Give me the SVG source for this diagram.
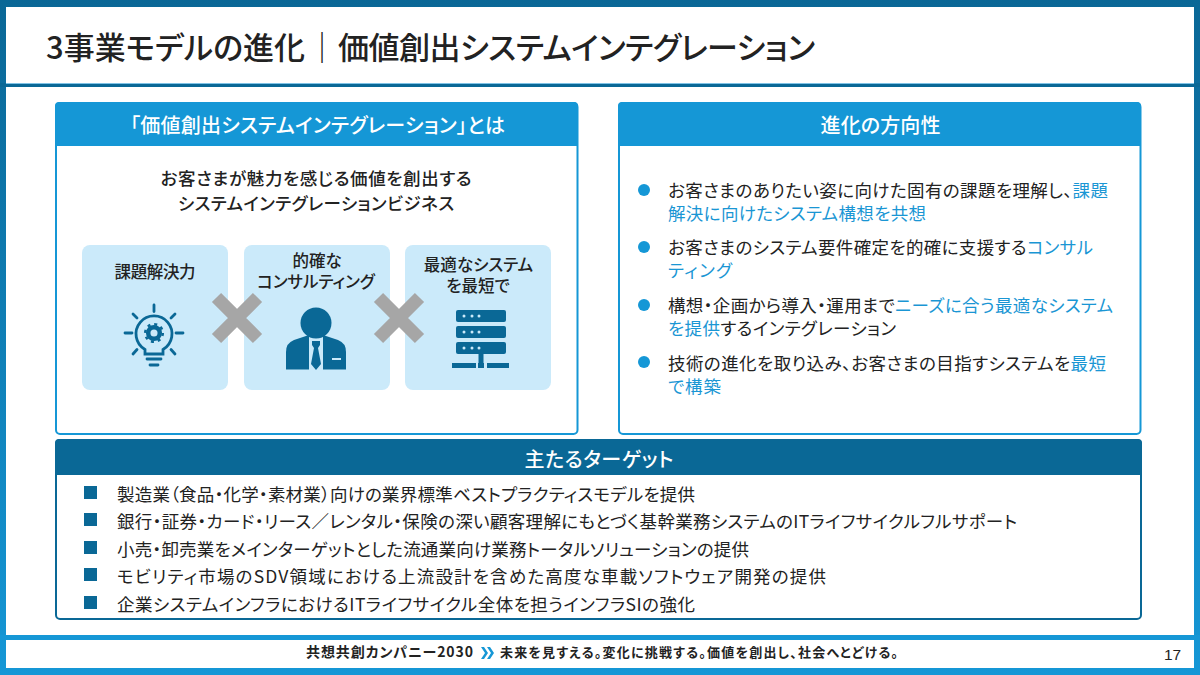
<svg xmlns="http://www.w3.org/2000/svg" width="1200" height="675" viewBox="0 0 1200 675">
<style>
text{font-family:"Noto Sans CJK JP","Noto Sans",sans-serif;fill:#222;font-feature-settings:"palt";}
.head{fill:#fff;font-size:20px;font-weight:500;text-anchor:middle;}
.mid{font-size:16.500px;text-anchor:middle;fill:#222;font-weight:500;}
.lead{font-size:17.500px;text-anchor:middle;font-weight:500;}
.b{font-size:17.500px;}
.t{font-size:17.500px;}
.hl{fill:#1a96d4;}
.blue{fill:#1597d6;}
.navy{fill:#0a6896;}
.tile{fill:#cbeafa;}
.x{stroke:#a6a6a6;stroke-width:13;fill:none;}
.ic{stroke:#0a6896;fill:none;stroke-width:2.800;stroke-linecap:round;}
</style>
<defs>
<linearGradient id="frame" x1="0" y1="0" x2="0" y2="1"><stop offset="0" stop-color="#0a6796"/><stop offset="1" stop-color="#1597d6"/></linearGradient>
<rect id="sq" width="13" height="13" fill="#0a6896"/>
</defs>
<rect width="1200" height="675" fill="url(#frame)"/>
<rect x="6" y="7" width="1188" height="661" fill="#fff"/>
<g id="title">
<rect x="0" y="83" width="1200" height="4" fill="#0a6896"/>
<rect x="6" y="83" width="1188" height="1" fill="#7fc3e6"/>
<text y="59" font-size="31" font-weight="500"><tspan x="46" textLength="259" lengthAdjust="spacing">3事業モデルの進化</tspan><tspan x="306.500" font-weight="400">｜</tspan><tspan x="338" textLength="477" lengthAdjust="spacing">価値創出システムインテグレーション</tspan></text>
</g>
<g id="left-panel">
<rect x="56" y="103" width="521.500" height="331" rx="4" fill="#fff" stroke="#1597d6" stroke-width="2"/>
<path class="blue" d="M55 106a4 4 0 0 1 4-4H574a4 4 0 0 1 4 4V146H55Z"/>
<text class="head" x="317.500" y="133" textLength="375" lengthAdjust="spacing">「価値創出システムインテグレーション」とは</text>
<text class="lead" x="316" y="185" textLength="311" lengthAdjust="spacing">お客さまが魅力を感じる価値を創出する</text>
<text class="lead" x="316" y="210" textLength="276" lengthAdjust="spacing">システムインテグレーションビジネス</text>
</g>
<g id="tile-solve">
<rect class="tile" x="82" y="245" width="146" height="145" rx="8"/>
<text class="mid" x="155" y="278" textLength="81" lengthAdjust="spacing">課題解決力</text>
<g class="ic">
<path d="M145 349.500A18 18 0 1 1 163 349.500V354H145Z"/>
<path d="M147 359h14M150 365h8"/>
<path d="M154 305v6.500M125 333h7M176 333h7M133 314l4 4M175 314l-4 4M133 354l4-4.500M175 354l-4-4.500"/>
</g>
<circle cx="154" cy="333" r="5.800" fill="none" stroke="#0a6896" stroke-width="4.500"/>
<circle cx="154" cy="333" r="8.800" fill="none" stroke="#0a6896" stroke-width="2.500" stroke-dasharray="3 3.900"/>
</g>
<g id="tile-consulting">
<rect class="tile" x="244" y="245" width="146" height="145" rx="8"/>
<text class="mid"><tspan x="317" y="267">的確な</tspan><tspan x="316" y="288">コンサルティング</tspan></text>
<circle cx="316" cy="323" r="15.500" fill="#0a6896"/>
<path class="navy" d="M286 369.500V352q0-9 8-12l15-5v34.500Z"/>
<path class="navy" d="M346 369.500V352q0-9-8-12l-15-5v34.500Z"/>
<path class="navy" d="M312 341h8v4l-2 3 3 16-5 6-5-6 3-16-2-3Z"/>
<rect x="332" y="358" width="9" height="2" fill="#cbeafa"/>
</g>
<g id="tile-system">
<rect class="tile" x="405" y="245" width="146" height="145" rx="8"/>
<text class="mid"><tspan x="478.500" y="271">最適なシステム</tspan><tspan x="478" y="292">を最短で</tspan></text>
<g fill="#0a6896">
<rect x="456" y="310" width="50" height="12" rx="2"/>
<rect x="456" y="326" width="50" height="12" rx="2"/>
<rect x="456" y="342" width="50" height="12" rx="2"/>
<rect x="478.500" y="354" width="5" height="9"/>
<rect x="452" y="363" width="24" height="5"/>
<rect x="478" y="363" width="6" height="5"/>
<rect x="487" y="363" width="22" height="5"/>
</g>
<g fill="#cbeafa">
<circle cx="464" cy="316" r="1.500"/><circle cx="472" cy="316" r="1.500"/><circle cx="479" cy="316" r="1.500"/>
<circle cx="464" cy="332" r="1.500"/><circle cx="472" cy="332" r="1.500"/><circle cx="479" cy="332" r="1.500"/>
<circle cx="464" cy="348" r="1.500"/><circle cx="472" cy="348" r="1.500"/><circle cx="479" cy="348" r="1.500"/>
</g>
</g>
<g id="cross-1"><path class="x" d="M216.500 297.500L257.500 338.500M257.500 297.500L216.500 338.500"/></g>
<g id="cross-2"><path class="x" d="M378.500 297.500L419.500 338.500M419.500 297.500L378.500 338.500"/></g>
<g id="right-panel">
<rect x="619" y="103" width="521.500" height="331" rx="4" fill="#fff" stroke="#1597d6" stroke-width="2"/>
<path class="blue" d="M618 106a4 4 0 0 1 4-4H1137a4 4 0 0 1 4 4V146H618Z"/>
<text class="head" x="880.500" y="133" textLength="120" lengthAdjust="spacing">進化の方向性</text>
<g class="blue">
<circle cx="644" cy="190" r="6"/><circle cx="644" cy="247" r="6"/><circle cx="644" cy="305" r="6"/><circle cx="644" cy="362" r="6"/>
</g>
<text class="b" x="668" y="197" textLength="440" lengthAdjust="spacing">お客さまのありたい姿に向けた固有の課題を理解し、<tspan class="hl">課題</tspan></text>
<text class="b hl" x="668" y="220" textLength="258" lengthAdjust="spacing">解決に向けたシステム構想を共想</text>
<text class="b" x="668" y="254" textLength="425" lengthAdjust="spacing">お客さまのシステム要件確定を的確に支援する<tspan class="hl">コンサル</tspan></text>
<text class="b hl" x="668" y="277" textLength="64" lengthAdjust="spacing">ティング</text>
<text class="b" x="668" y="312" textLength="445" lengthAdjust="spacing">構想・企画から導入・運用まで<tspan class="hl">ニーズに合う最適なシステム</tspan></text>
<text class="b" x="668" y="335" textLength="228" lengthAdjust="spacing"><tspan class="hl">を提供</tspan>するインテグレーション</text>
<text class="b" x="668" y="370" textLength="438" lengthAdjust="spacing">技術の進化を取り込み、お客さまの目指すシステムを<tspan class="hl">最短</tspan></text>
<text class="b hl" x="668" y="393" textLength="53" lengthAdjust="spacing">で構築</text>
</g>
<g id="target-panel">
<rect x="56" y="440" width="1085" height="179" rx="4" fill="#fff" stroke="#0a6896" stroke-width="2"/>
<path class="navy" d="M55 443a4 4 0 0 1 4-4H1138a4 4 0 0 1 4 4V475H55Z"/>
<text class="head" x="599" y="467" textLength="149" lengthAdjust="spacing">主たるターゲット</text>
<use href="#sq" x="84" y="486"/><use href="#sq" x="84" y="513"/><use href="#sq" x="84" y="541"/><use href="#sq" x="84" y="568"/><use href="#sq" x="84" y="596"/>
<text class="t" x="117" y="501" textLength="578" lengthAdjust="spacing">製造業（食品・化学・素材業）向けの業界標準ベストプラクティスモデルを提供</text>
<text class="t" x="117" y="528" textLength="900" lengthAdjust="spacing">銀行・証券・カード・リース／レンタル・保険の深い顧客理解にもとづく基幹業務システムのITライフサイクルフルサポート</text>
<text class="t" x="117" y="556" textLength="632" lengthAdjust="spacing">小売・卸売業をメインターゲットとした流通業向け業務トータルソリューションの提供</text>
<text class="t" x="117" y="583" textLength="709" lengthAdjust="spacing">モビリティ市場のSDV領域における上流設計を含めた高度な車載ソフトウェア開発の提供</text>
<text class="t" x="117" y="611" textLength="578" lengthAdjust="spacing">企業システムインフラにおけるITライフサイクル全体を担うインフラSIの強化</text>
</g>
<g id="footer">
<rect x="0" y="635" width="1200" height="5" fill="#1597d6"/>
<text x="306" y="657" font-size="14" font-weight="700" textLength="167" lengthAdjust="spacing" fill="#111">共想共創カンパニー2030</text>
<path d="M481 647l4 6-4 6h3l4-6-4-6ZM487 647l4 6-4 6h3l4-6-4-6Z" fill="#1597d6"/>
<text x="500" y="657" font-size="13" font-weight="700" textLength="398" lengthAdjust="spacing" fill="#111">未来を見すえる。変化に挑戦する。価値を創出し、社会へとどける。</text>
<text x="1164" y="660" font-size="15.500" fill="#555" style="font-family:'Liberation Sans',sans-serif">17</text>
</g>
</svg>
